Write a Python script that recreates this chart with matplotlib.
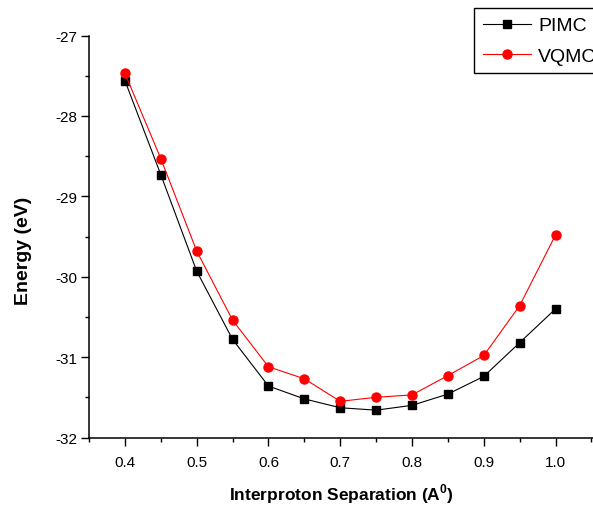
import matplotlib
matplotlib.use("Agg")
import matplotlib.pyplot as plt
from matplotlib.ticker import MultipleLocator

separation = [0.40, 0.45, 0.50, 0.55, 0.60, 0.65, 0.70, 0.75, 0.80, 0.85, 0.90, 0.95, 1.00]
pimc = [-27.56, -28.73, -29.93, -30.78, -31.36, -31.52, -31.63, -31.66, -31.60, -31.46, -31.24, -30.82, -30.40]
vqmc = [-27.47, -28.53, -29.68, -30.54, -31.12, -31.27, -31.55, -31.50, -31.47, -31.23, -30.98, -30.36, -29.48]
xticks = [0.4, 0.5, 0.6, 0.7, 0.8, 0.9, 1.0]
xticklabels = ["0.4", "0.5", "0.6", "0.7", "0.8", "0.9", "1.0"]
yticks = [-32, -31, -30, -29, -28, -27]
yticklabels = ["-32", "-31", "-30", "-29", "-28", "-27"]

plt.rcParams["font.family"] = ["Liberation Sans", "DejaVu Sans"]
plt.rcParams["mathtext.fontset"] = "custom"
plt.rcParams["mathtext.bf"] = "Liberation Sans:bold"
plt.rcParams["mathtext.rm"] = "Liberation Sans"

W, H = 593, 506
fig = plt.figure(figsize=(W / 100, H / 100), dpi=100)
left, right, top, bottom = 89, 593, 36.5, 438.5
ax = fig.add_axes([left / W, 1 - bottom / H, (right - left) / W, (bottom - top) / H])

ax.plot(separation, pimc, color="black", lw=0.8, marker="s", ms=5.5,
        markerfacecolor="black", markeredgecolor="black", label="PIMC")
ax.plot(separation, vqmc, color="red", lw=0.8, marker="o", ms=6.5,
        markerfacecolor="red", markeredgecolor="red", label="VQMC")

ax.set_xlim(0.35, 0.35 + (right - left) / 717.8)
ax.set_ylim(-32, -27)
ax.set_xticks(xticks)
ax.set_xticklabels(xticklabels)
ax.set_yticks(yticks)
ax.set_yticklabels(yticklabels)
ax.xaxis.set_minor_locator(MultipleLocator(0.05))
ax.yaxis.set_minor_locator(MultipleLocator(0.5))

for s in ["top", "right"]:
    ax.spines[s].set_visible(False)
for s in ["left", "bottom"]:
    ax.spines[s].set_linewidth(1.1)

ax.tick_params(which="major", direction="out", length=5.5, width=1.0, labelsize=11, pad=7)
ax.tick_params(which="minor", direction="out", length=3.2, width=1.0)
ax.tick_params(axis="y", which="major", pad=3)

ax.set_xlabel("Interproton Separation (A$^{\\mathbf{0}}$)", fontsize=12.5, fontweight="bold")
ax.xaxis.set_label_coords(0.5, -0.11)
ax.set_ylabel("Energy (eV)", fontsize=14, fontweight="bold", va="center")
ax.yaxis.set_label_coords(-0.13, 0.466)

leg = ax.legend(loc="upper left", bbox_to_anchor=(474 / W, 1 - 9 / H), bbox_transform=fig.transFigure,
                fontsize=14, frameon=True, fancybox=False, edgecolor="black", framealpha=1,
                numpoints=1, handlelength=2.5, handletextpad=0.35, borderpad=0.45,
                labelspacing=0.65, borderaxespad=0)
leg.get_frame().set_linewidth(1.0)

fig.savefig("out.png", dpi=100)
